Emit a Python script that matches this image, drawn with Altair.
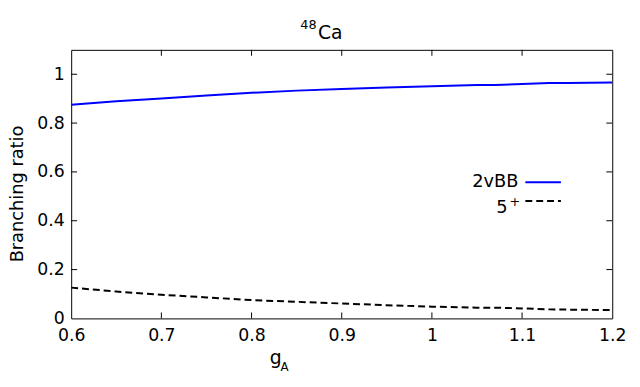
import altair as alt
import pandas as pd

# data
g_a = [0.6, 0.65, 0.7, 0.75, 0.8, 0.85, 0.9, 0.95, 1.0, 1.05, 1.07, 1.1, 1.13, 1.15, 1.2]
br_2vbb = [0.875, 0.889, 0.901, 0.913, 0.924, 0.933, 0.940, 0.946, 0.951, 0.956, 0.956, 0.960, 0.964, 0.964, 0.966]
br_5p = [0.126, 0.110, 0.097, 0.086, 0.075, 0.068, 0.061, 0.054, 0.048, 0.044, 0.044, 0.041, 0.037, 0.036, 0.034]

x_ticks = [0.6, 0.7, 0.8, 0.9, 1.0, 1.1, 1.2]
y_ticks = [0, 0.2, 0.4, 0.6, 0.8, 1.0]
x_inner_ticks = [0.7, 0.8, 0.9, 1.0, 1.1]
y_inner_ticks = [0.2, 0.4, 0.6, 0.8, 1.0]

W, H = 548, 272
FONT = "DejaVu Sans"

df = pd.DataFrame({"g": g_a, "b2": br_2vbb, "b5": br_5p})
xs = alt.Scale(domain=[0.6, 1.2], nice=False, zero=False)
ys = alt.Scale(domain=[0, 1.1], nice=False, zero=False)

x_axis = alt.Axis(
    values=x_ticks, format="~g", tickSize=0, domain=False, grid=False, title=None,
    labelFont=FONT, labelFontSize=17.5, labelColor="black", labelPadding=8,
    labelFlush=False, labelOverlap=False, labelBound=False)
y_axis = alt.Axis(
    values=y_ticks, format="~g", tickSize=0, domain=False, grid=False, title=None,
    labelFont=FONT, labelFontSize=17.5, labelColor="black", labelPadding=7,
    labelFlush=False, labelOverlap=False, labelBound=False)

base = alt.Chart(df)
blue = base.mark_line(color="#0000ff", strokeWidth=2, clip=True).encode(
    x=alt.X("g:Q", scale=xs, axis=x_axis),
    y=alt.Y("b2:Q", scale=ys, axis=y_axis),
)
dashed = base.mark_line(color="black", strokeWidth=2, strokeDash=[7, 4], clip=True).encode(
    x=alt.X("g:Q", scale=xs, axis=x_axis),
    y=alt.Y("b5:Q", scale=ys, axis=y_axis),
)

xt = alt.Chart(pd.DataFrame({"v": x_inner_ticks}))
yt = alt.Chart(pd.DataFrame({"v": y_inner_ticks}))
tick_style = dict(color="black", strokeWidth=1)
tb = xt.mark_rule(**tick_style).encode(x=alt.X("v:Q", scale=xs, axis=x_axis), y=alt.value(H), y2=alt.value(H - 6))
tt = xt.mark_rule(**tick_style).encode(x=alt.X("v:Q", scale=xs, axis=x_axis), y=alt.value(0), y2=alt.value(6))
tl = yt.mark_rule(**tick_style).encode(y=alt.Y("v:Q", scale=ys, axis=y_axis), x=alt.value(0), x2=alt.value(6))
tr = yt.mark_rule(**tick_style).encode(y=alt.Y("v:Q", scale=ys, axis=y_axis), x=alt.value(W), x2=alt.value(W - 6))

one = alt.Chart(pd.DataFrame({"k": [0]}))


def txt(s, x, y, size, align="left", angle=0, baseline="alphabetic"):
    return one.mark_text(font=FONT, fontSize=size, align=align, baseline=baseline,
                         angle=angle, color="black").encode(
        x=alt.value(x), y=alt.value(y), text=alt.value(s))


# title 48Ca
t1 = txt("48", 232, -21, 13)
t2 = txt("Ca", 250, -11, 19)
# x title g_A
xg = txt("g", 201, 318, 19)
xa = txt("A", 212, 325, 12)
# y title
ytitle = txt("Branching ratio", -54, 146, 18, align="center", angle=270, baseline="middle")

# legend
l1 = txt("2vBB", 453, 139, 18, align="right")
l1line = one.mark_rule(color="#0000ff", strokeWidth=2).encode(
    x=alt.value(460), x2=alt.value(496), y=alt.value(134))
l2 = txt("5", 442, 165, 18, align="right")
l2s = txt("+", 444, 158, 13)
l2line = one.mark_rule(color="black", strokeWidth=2, strokeDash=[7, 4]).encode(
    x=alt.value(460), x2=alt.value(496), y=alt.value(153))

chart = alt.layer(
    blue, dashed, tb, tt, tl, tr, t1, t2, xg, xa, ytitle, l1, l1line, l2, l2s, l2line
).properties(
    width=W, height=H,
    autosize=alt.AutoSizeParams(type="none"),
    padding={"left": 64, "top": 40, "right": 20, "bottom": 59},
    background="white",
).configure_view(stroke="black", strokeWidth=1)

chart.save("out.html", embed_options={"renderer": "svg", "actions": False})
